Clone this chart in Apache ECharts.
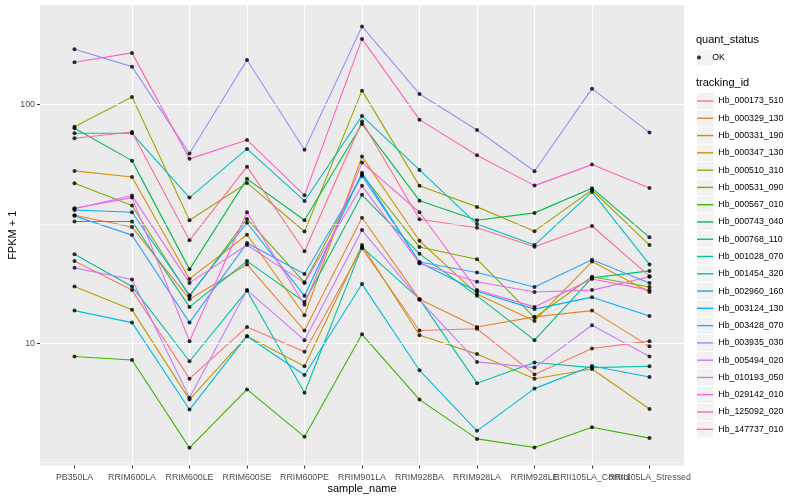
<!DOCTYPE html>
<html><head><meta charset="utf-8">
<script src="https://cdn.jsdelivr.net/npm/echarts@6/dist/echarts.min.js"></script>
<style>html,body{margin:0;padding:0;background:#fff}#c{width:800px;height:500px}</style>
</head><body><div id="c"></div>
<script>
const sampleNames = ['PB350LA','RRIM600LA','RRIM600LE','RRIM600SE','RRIM600PE','RRIM901LA','RRIM928BA','RRIM928LA','RRIM928LE','RRII105LA_Control','RRII105LA_Stressed'];
const trackingIds = ['Hb_000173_510','Hb_000329_130','Hb_000331_190','Hb_000347_130','Hb_000510_310','Hb_000531_090','Hb_000567_010','Hb_000743_040','Hb_000768_110','Hb_001028_070','Hb_001454_320','Hb_002960_160','Hb_003124_130','Hb_003428_070','Hb_003935_030','Hb_005494_020','Hb_010193_050','Hb_029142_010','Hb_125092_020','Hb_147737_010'];
const hueColors = ['#F8766D','#EA8331','#D89000','#C09B00','#A3A500','#7CAE00','#39B600','#00BB4E','#00BF7D','#00C1A3','#00BFC4','#00BAE0','#00B0F6','#35A2FF','#9590FF','#C77CFF','#E76BF3','#FA62DB','#FF62BC','#FF6C91'];

// FPKM + 1 per sample (order of sampleNames)
const Hb_000173_510 = [22.1, 16.7, 7.1, 11.7, 9.2, 25.0, 11.3, 11.5, 7.4, 9.5, 10.2];
const Hb_000329_130 = [34.4, 30.7, 15.3, 21.4, 11.3, 33.6, 15.3, 11.7, 12.9, 13.7, 9.7];
const Hb_000331_190 = [52.8, 49.8, 18.6, 28.5, 13.1, 60.6, 26.9, 16.1, 12.4, 22.0, 16.4];
const Hb_000347_130 = [17.3, 13.8, 5.8, 10.7, 8.0, 25.8, 10.8, 9.0, 7.1, 7.8, 5.3];
const Hb_000510_310 = [80.9, 107.8, 32.8, 47.0, 29.4, 114.6, 45.7, 37.3, 29.5, 43.9, 25.8];
const Hb_000531_090 = [46.9, 37.8, 15.7, 33.2, 18.0, 51.0, 25.3, 22.5, 12.8, 19.0, 17.2];
const Hb_000567_010 = [8.8, 8.5, 3.64, 6.4, 4.05, 10.9, 5.8, 3.97, 3.65, 4.44, 4.0];
const Hb_000743_040 = [79.7, 58.3, 20.4, 48.9, 32.8, 83.1, 39.6, 32.8, 35.2, 44.7, 27.8];
const Hb_000768_110 = [32.4, 32.4, 14.2, 22.1, 14.9, 41.9, 23.7, 15.8, 10.3, 18.8, 20.1];
const Hb_001028_070 = [23.6, 17.3, 8.4, 16.6, 6.2, 25.3, 15.3, 6.8, 8.3, 7.9, 8.0];
const Hb_001454_320 = [75.9, 75.9, 40.8, 65.3, 39.5, 89.8, 53.3, 31.6, 25.8, 43.1, 21.4];
const Hb_002960_160 = [13.7, 12.2, 5.27, 10.7, 7.36, 17.7, 7.7, 4.29, 6.45, 8.03, 7.22];
const Hb_003124_130 = [36.2, 35.4, 15.9, 32.0, 15.8, 51.9, 21.8, 16.5, 13.9, 15.6, 13.0];
const Hb_003428_070 = [34.2, 28.4, 12.2, 26.3, 19.5, 50.3, 21.9, 19.8, 17.2, 22.4, 17.9];
const Hb_003935_030 = [171, 144.5, 62.4, 154, 64.8, 213, 111, 78.4, 52.6, 116.8, 76.4];
const Hb_005494_020 = [20.7, 18.5, 5.9, 16.7, 10.3, 29.8, 15.2, 8.35, 7.9, 11.9, 8.8];
const Hb_010193_050 = [36.6, 41.6, 17.9, 25.8, 17.9, 45.7, 21.6, 18.1, 16.4, 16.7, 19.0];
const Hb_029142_010 = [36.8, 40.8, 10.2, 35.4, 14.5, 57.2, 35.4, 16.7, 14.2, 18.6, 16.7];
const Hb_125092_020 = [150.7, 165, 59.3, 71.2, 41.7, 188.8, 86.6, 61.4, 45.8, 56.1, 44.8];
const Hb_147737_010 = [72.4, 76.9, 27.0, 55.0, 24.3, 85.0, 33.1, 30.5, 25.4, 31.0, 19.1];

const seriesValues = [Hb_000173_510, Hb_000329_130, Hb_000331_190, Hb_000347_130, Hb_000510_310, Hb_000531_090, Hb_000567_010, Hb_000743_040, Hb_000768_110, Hb_001028_070, Hb_001454_320, Hb_002960_160, Hb_003124_130, Hb_003428_070, Hb_003935_030, Hb_005494_020, Hb_010193_050, Hb_029142_010, Hb_125092_020, Hb_147737_010];

const yTickValues = [10, 100];
const yMinorValues = [3.1623, 31.623];
const xTickValues = sampleNames.map((_, i) => i);

const FONT = '"Liberation Sans", Arial, Helvetica, sans-serif';
const chart = echarts.init(document.getElementById('c'), null, { renderer: 'canvas' });

const lineSeries = trackingIds.map((id, k) => ({
  name: id, type: 'line', color: hueColors[k], symbol: 'none', showSymbol: false,
  lineStyle: { width: 1.1 }, z: 2, silent: true,
  data: seriesValues[k].map((v, i) => [i, v])
}));

const pointData = [];
seriesValues.forEach(vals => vals.forEach((v, i) => pointData.push([i, v])));

// legend layout constants
const LEG_X = 697, ROW_H = 17.28, ROW0 = 101, OK_Y = 57.5, KEY = 16.3;
const keyBoxes = [];
keyBoxes.push({ type: 'rect', left: LEG_X, top: OK_Y - KEY / 2, shape: { width: KEY, height: KEY }, style: { fill: '#F2F2F2' }, z: 0, silent: true });
trackingIds.forEach((_, i) => {
  keyBoxes.push({ type: 'rect', left: LEG_X, top: ROW0 + i * ROW_H - KEY / 2, shape: { width: KEY, height: KEY }, style: { fill: '#F2F2F2' }, z: 0, silent: true });
});

const xLabelFmt = v => sampleNames[Math.round(v)] || '';
const lastIdx = sampleNames.length - 1;
const mainLabelValues = xTickValues.filter(i => i !== lastIdx - 1);
const extraLabelValues = [lastIdx - 1];

const xBase = { type: 'value', min: -0.6, max: 10.6, minInterval: 1, maxInterval: 1, position: 'bottom', offset: 0 };
const labelStyle = { margin: 8, fontSize: 8.8, color: '#4D4D4D', fontFamily: FONT, hideOverlap: false, formatter: xLabelFmt };

const gridLineData = [
  ...yMinorValues.map(v => ({ yAxis: v, lineStyle: { color: '#FAFAFA', width: 0.6, type: 'solid' } })),
  ...yTickValues.map(v => ({ yAxis: v, lineStyle: { color: '#FFFFFF', width: 1.2, type: 'solid' } }))
];

const option = {
  animation: false,
  backgroundColor: '#ffffff',
  textStyle: { fontFamily: FONT },
  title: [
    { text: 'quant_status', left: 696, top: OK_Y - 23.5, padding: 0, textStyle: { fontSize: 11, fontWeight: 'normal', color: '#000', fontFamily: FONT } },
    { text: 'tracking_id', left: 696, top: ROW0 - 23.5, padding: 0, textStyle: { fontSize: 11, fontWeight: 'normal', color: '#000', fontFamily: FONT } }
  ],
  graphic: keyBoxes,
  legend: [
    {
      data: trackingIds.map(n => ({ name: n })),
      orient: 'vertical', left: LEG_X, top: ROW0 - ROW_H / 2, padding: 0, itemGap: 0,
      icon: 'rect', itemWidth: KEY, itemHeight: 1.4, selectedMode: false,
      textStyle: { fontSize: 8.8, color: '#000', fontFamily: FONT, lineHeight: ROW_H }
    },
    {
      data: [{ name: 'OK' }],
      orient: 'vertical', left: LEG_X, top: OK_Y - ROW_H / 2, padding: 0, itemGap: 0,
      icon: 'circle', itemWidth: KEY, itemHeight: 4, selectedMode: false,
      textStyle: { fontSize: 8.8, color: '#000', fontFamily: FONT, lineHeight: ROW_H }
    }
  ],
  grid: { left: 40, right: 116, top: 5, bottom: 34.5, show: true, backgroundColor: '#EBEBEB', borderWidth: 0,
          containLabel: false, outerBoundsMode: 'none' },
  xAxis: [
    Object.assign({}, xBase, {
      axisLine: { show: false, onZero: false },
      axisTick: { show: true, length: 3, lineStyle: { color: '#333333', width: 1 }, customValues: xTickValues },
      axisLabel: Object.assign({ customValues: mainLabelValues }, labelStyle),
      splitLine: { show: true, showMinLine: false, showMaxLine: false, lineStyle: { color: '#FFFFFF', width: 1.1 } },
      name: 'sample_name', nameLocation: 'middle', nameGap: 18, nameMoveOverlap: false,
      nameTextStyle: { fontSize: 11, color: '#000', fontFamily: FONT }
    }),
    Object.assign({}, xBase, {
      axisLine: { show: false, onZero: false },
      axisTick: { show: false },
      axisLabel: Object.assign({ customValues: extraLabelValues }, labelStyle),
      splitLine: { show: false }
    })
  ],
  yAxis: {
    type: 'log', logBase: 10, min: 3.07, max: 262,
    axisLine: { show: false, onZero: false },
    axisTick: { show: true, length: 3, lineStyle: { color: '#333333', width: 1 }, customValues: yTickValues },
    axisLabel: { customValues: yTickValues, margin: 5, fontSize: 8.8, color: '#4D4D4D', fontFamily: FONT,
      formatter: v => String(Math.round(v)) },
    splitLine: { show: true, lineStyle: { color: '#FFFFFF', width: 1.1 } },
    name: 'FPKM + 1', nameLocation: 'middle', nameGap: 22, nameMoveOverlap: false,
    nameTextStyle: { fontSize: 11, color: '#000', fontFamily: FONT }
  },
  series: [
    {
      name: 'panelGrid', type: 'line', data: [], z: 1, silent: true,
      markLine: {
        silent: true, symbol: 'none', animation: false, label: { show: false },
        lineStyle: { color: '#FFFFFF', width: 1.2, type: 'solid' },
        data: gridLineData
      }
    },
    ...lineSeries,
    {
      name: 'OK', type: 'scatter', symbol: 'circle', symbolSize: 4,
      itemStyle: { color: '#000000' }, z: 5, silent: true, data: pointData
    }
  ]
};
chart.setOption(option);
</script>
</body></html>
